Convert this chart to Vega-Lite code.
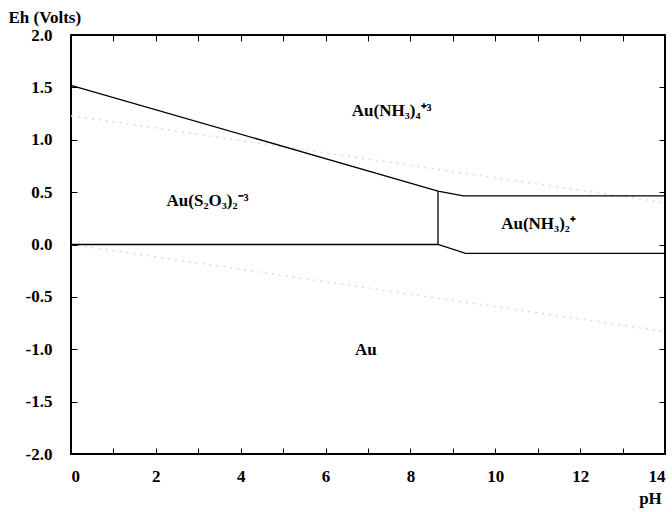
{
  "$schema": "https://vega.github.io/schema/vega-lite/v6.json",
  "autosize": {"type": "none"},
  "padding": {"left": 71, "top": 35, "right": 7, "bottom": 58},
  "width": 594,
  "height": 419,
  "background": "white",
  "config": {
    "view": {"stroke": "black", "strokeWidth": 2},
    "axis": {
      "grid": false,
      "domain": false,
      "labelFont": "Liberation Serif",
      "labelFontWeight": "bold",
      "labelFontSize": 17,
      "labelColor": "black",
      "titleFont": "Liberation Serif",
      "titleFontWeight": "bold",
      "titleFontSize": 17,
      "titleColor": "black",
      "tickColor": "black",
      "tickWidth": 1
    }
  },
  "datasets": {
    "water": [
      {"series": "o2", "pH": 0, "Eh": 1.23},
      {"series": "o2", "pH": 14, "Eh": 0.40},
      {"series": "h2", "pH": 0, "Eh": 0.0},
      {"series": "h2", "pH": 14, "Eh": -0.83}
    ],
    "bounds": [
      {"series": "a", "ord": 1, "pH": 0, "Eh": 1.52},
      {"series": "a", "ord": 2, "pH": 8.65, "Eh": 0.51},
      {"series": "a", "ord": 3, "pH": 9.25, "Eh": 0.465},
      {"series": "a", "ord": 4, "pH": 14, "Eh": 0.465},
      {"series": "b", "ord": 1, "pH": 8.65, "Eh": 0.51},
      {"series": "b", "ord": 2, "pH": 8.65, "Eh": 0.0},
      {"series": "c", "ord": 1, "pH": 0, "Eh": 0.0},
      {"series": "c", "ord": 2, "pH": 8.65, "Eh": 0.0},
      {"series": "c", "ord": 3, "pH": 9.3, "Eh": -0.085},
      {"series": "c", "ord": 4, "pH": 14, "Eh": -0.085}
    ],
    "labels": [
      {"label": "Au(NH₃)₄⁺³", "pH": 7.56, "Eh": 1.27},
      {"label": "Au(S₂O₃)₂⁻³", "pH": 3.22, "Eh": 0.42},
      {"label": "Au(NH₃)₂⁺", "pH": 11.02, "Eh": 0.20},
      {"label": "Au", "pH": 6.95, "Eh": -1.01}
    ]
  },
  "layer": [
    {
      "data": {"name": "water"},
      "mark": {"type": "line", "color": "#dadada", "strokeDash": [2, 5], "strokeWidth": 1.5},
      "encoding": {
        "x": {
          "field": "pH", "type": "quantitative",
          "scale": {"domain": [0, 14], "nice": false, "zero": false},
          "axis": {
            "orient": "bottom",
            "values": [0,1,2,3,4,5,6,7,8,9,10,11,12,13,14],
            "labelExpr": "datum.value % 2 == 0 ? format(datum.value, 'd') : ''",
            "tickSize": -6,
            "labelPadding": 20,
            "title": "pH",
            "titleX": 579,
            "titleY": 44,
            "titleAlign": "center",
            "titleBaseline": "middle"
          }
        },
        "y": {
          "field": "Eh", "type": "quantitative",
          "scale": {"domain": [-2, 2], "nice": false, "zero": false},
          "axis": {
            "orient": "left",
            "values": [-2,-1.5,-1,-0.5,0,0.5,1,1.5,2],
            "labelExpr": "replace(format(datum.value, '.1f'), '−', '-')",
            "tickSize": -6,
            "labelPadding": 25,
            "title": "Eh (Volts)",
            "titleAngle": 0,
            "titleX": -63,
            "titleY": -18,
            "titleAlign": "left",
            "titleBaseline": "middle"
          }
        },
        "detail": {"field": "series"}
      }
    },
    {
      "data": {"name": "bounds"},
      "mark": {"type": "line", "color": "black", "strokeWidth": 1.3},
      "encoding": {
        "x": {
          "field": "pH", "type": "quantitative",
          "axis": {
            "orient": "top",
            "values": [1,2,3,4,5,6,7,8,9,10,11,12,13],
            "labels": false,
            "tickSize": -6,
            "title": null
          }
        },
        "y": {
          "field": "Eh", "type": "quantitative",
          "axis": {
            "orient": "right",
            "values": [-1.5,-1,-0.5,0,0.5,1,1.5],
            "labels": false,
            "tickSize": -6,
            "title": null
          }
        },
        "detail": {"field": "series"},
        "order": {"field": "ord"}
      }
    },
    {
      "data": {"name": "labels"},
      "mark": {"type": "text", "font": "Liberation Serif", "fontWeight": "bold", "fontSize": 17, "color": "black"},
      "encoding": {
        "x": {"field": "pH", "type": "quantitative", "axis": null},
        "y": {"field": "Eh", "type": "quantitative", "axis": null},
        "text": {"field": "label"}
      }
    }
  ],
  "resolve": {"axis": {"x": "independent", "y": "independent"}}
}
